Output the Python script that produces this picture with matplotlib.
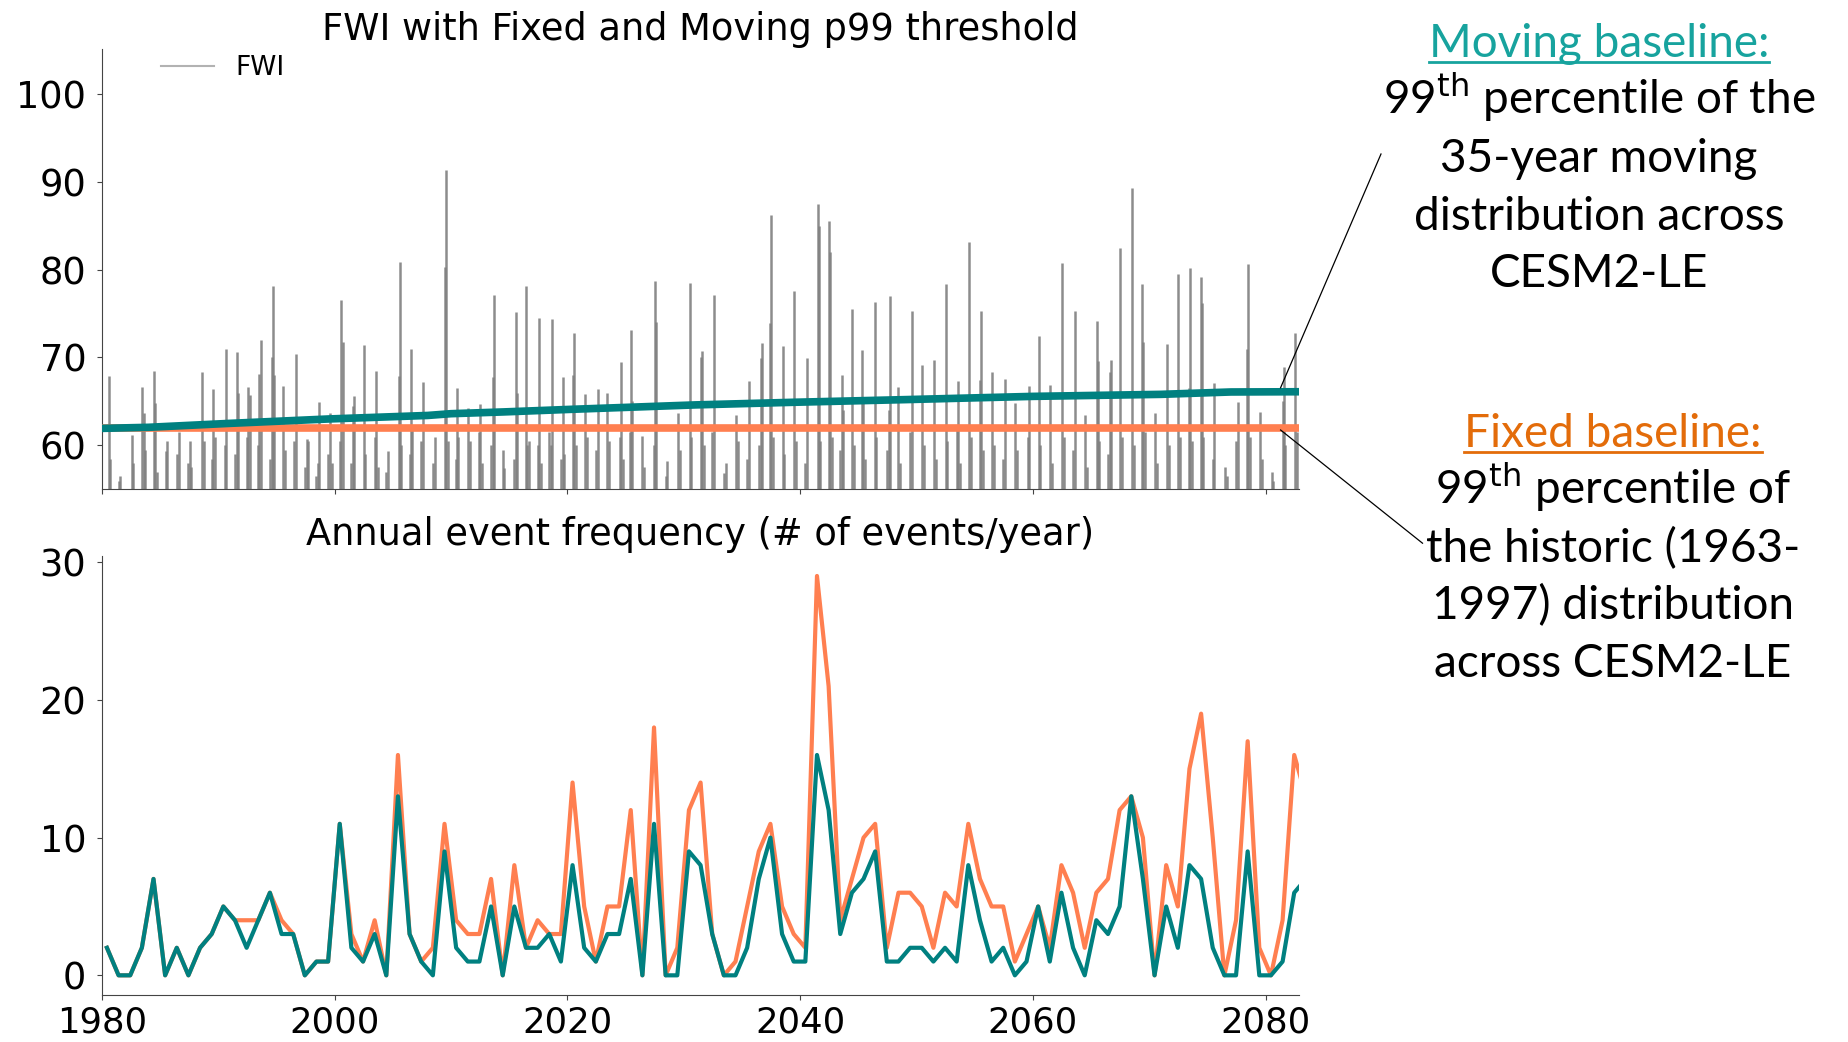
import numpy as np
import matplotlib
matplotlib.use("Agg")
import matplotlib.pyplot as plt
from matplotlib.lines import Line2D

# ---------------- data ----------------
years = np.arange(1980, 2084)
events_fixed = [2, 0, 0, 2, 7, 0, 2, 0, 2, 3, 5, 4, 4, 4, 6, 4, 3, 0, 1, 1,
                11, 3, 1, 4, 0, 16, 3, 1, 2, 11, 4, 3, 3, 7, 0, 8, 2, 4, 3, 3,
                14, 5, 1, 5, 5, 12, 0, 18, 0, 2, 12, 14, 3, 0, 1, 5, 9, 11, 5, 3,
                2, 29, 21, 4, 7, 10, 11, 2, 6, 6, 5, 2, 6, 5, 11, 7, 5, 5, 1, 3,
                5, 2, 8, 6, 2, 6, 7, 12, 13, 10, 0, 8, 5, 15, 19, 10, 0, 4, 17, 2,
                0, 4, 16, 13]
events_moving = [2, 0, 0, 2, 7, 0, 2, 0, 2, 3, 5, 4, 2, 4, 6, 3, 3, 0, 1, 1,
                 11, 2, 1, 3, 0, 13, 3, 1, 0, 9, 2, 1, 1, 5, 0, 5, 2, 2, 3, 1,
                 8, 2, 1, 3, 3, 7, 0, 11, 0, 0, 9, 8, 3, 0, 0, 2, 7, 10, 3, 1,
                 1, 16, 12, 3, 6, 7, 9, 1, 1, 2, 2, 1, 2, 1, 8, 4, 1, 2, 0, 1,
                 5, 1, 6, 2, 0, 4, 3, 5, 13, 7, 0, 5, 2, 8, 7, 2, 0, 0, 9, 0,
                 0, 1, 6, 7]

# main FWI peaks (decimal year, value)
fwi_time = [1980.63, 1981.6, 1982.6, 1983.5, 1983.6, 1984.5, 1984.6, 1985.5, 1985.6, 1986.6,
            1987.6, 1987.7, 1988.6, 1989.6, 1989.7, 1990.7, 1991.6, 1991.7, 1992.6, 1992.7,
            1993.55, 1993.7, 1994.6, 1994.7, 1994.8, 1995.6, 1996.7, 1997.6, 1997.7, 1998.55,
            1998.7, 1999.6, 1999.75, 2000.6, 2000.7, 2001.6, 2001.7, 2002.5, 2003.6, 2003.75,
            2004.6, 2005.5, 2005.65, 2006.6, 2006.7, 2007.6, 2008.6, 2009.5, 2009.6, 2010.5,
            2010.65, 2011.5, 2012.5, 2012.65, 2013.6, 2013.7, 2014.6,
            2015.6, 2015.7, 2016.45, 2016.55, 2017.5, 2017.6, 2018.6, 2018.7, 2019.6, 2019.7,
            2020.5, 2020.6, 2021.5, 2022.6, 2023.4, 2024.5, 2024.6, 2025.5, 2025.6, 2026.4,
            2027.55, 2027.6, 2028.6, 2029.5, 2030.5, 2031.5, 2031.6, 2032.6, 2033.5, 2034.5,
            2035.6, 2036.6, 2036.7, 2037.45, 2037.5, 2038.5, 2039.5, 2040.6, 2041.5, 2041.6,
            2042.5, 2042.6, 2043.6, 2043.7, 2044.5, 2045.3, 2045.4, 2046.4, 2047.6, 2047.7,
            2048.4,
            2049.6, 2050.5, 2051.5, 2052.5, 2053.5, 2053.6, 2054.5, 2055.45, 2055.55, 2056.5,
            2057.6, 2058.5, 2059.7, 2060.5, 2061.5, 2062.5, 2063.6, 2064.5, 2065.5, 2065.6,
            2066.6, 2066.7, 2067.5, 2068.5, 2069.4, 2069.5, 2070.5, 2071.5, 2072.5, 2073.4,
            2073.5, 2074.4, 2074.5, 2075.6, 2076.5, 2077.6, 2078.4, 2078.5, 2079.5, 2080.5,
            2081.5, 2081.6, 2082.5]
fwi_peak = [67.9, 56.5, 61.2, 66.6, 63.7, 68.5, 64.8, 59.3, 60.5, 61.5,
            60.5, 57.5, 68.3, 66.4, 61.0, 71.0, 70.6, 66.0, 66.6, 65.7,
            68.1, 72.0, 70.0, 78.1, 68.0, 66.7, 70.4, 60.7, 60.5, 58.0,
            64.9, 63.7, 58.0, 76.5, 71.8, 64.5, 65.6, 71.4, 68.5, 57.5,
            59.3, 67.9, 80.8, 71.0, 62.0, 67.2, 61.0, 80.3, 91.3, 66.5,
            61.0, 64.2, 64.7, 58.0, 67.8, 77.1, 57.4,
            75.2, 66.0, 78.1, 60.0, 60.0, 74.5, 60.0, 74.4, 67.8, 59.0,
            68.0, 72.8, 65.8, 66.4, 66.0, 61.0, 69.5, 73.1, 65.0, 61.1,
            78.7, 74.0, 58.2, 63.7, 78.5, 70.0, 70.7, 77.1, 56.8, 63.5,
            67.3, 69.9, 71.6, 73.9, 86.2, 71.3, 77.6, 69.9, 87.4, 85.0,
            85.5, 82.0, 68.0, 64.0, 75.5, 70.8, 65.0, 76.25, 64.0, 77.0,
            66.6,
            75.3, 69.1, 69.7, 78.3, 62.0, 67.3, 83.1, 67.4, 75.3, 68.3,
            67.6, 64.8, 66.8, 72.4, 66.9, 80.7, 75.3, 63.4, 74.1, 69.6,
            68.3, 69.7, 82.5, 89.3, 78.3, 71.8, 63.7, 71.5, 79.5, 66.5,
            80.2, 79.1, 76.2, 67.1, 57.5, 64.9, 71.0, 80.6, 63.8, 57.0,
            65.0, 68.9, 72.8]

# smaller FWI excursions just above the 55 floor
fwi_low_time = [1980.75, 1981.45, 1982.7, 1983.7, 1984.75, 1986.5, 1987.45, 1988.75, 1989.45, 1990.55,
                1991.45, 1992.5, 1993.45, 1994.45, 1995.75, 1996.55, 1997.45, 1998.45, 1999.45, 2000.45,
                2001.45, 2002.65, 2003.45, 2004.45, 2005.75, 2006.45, 2007.45, 2008.45, 2009.75, 2010.4,
                2011.65, 2012.4, 2013.45, 2014.45, 2015.45, 2016.7, 2017.75, 2018.45, 2019.45, 2020.75,
                2021.65, 2022.45, 2023.6, 2024.75, 2025.4, 2026.6, 2027.45, 2028.45, 2029.65, 2030.65,
                2031.75, 2032.45, 2033.65, 2034.65, 2035.45, 2036.45, 2037.65, 2038.65, 2039.65, 2040.45,
                2041.75, 2042.75, 2043.45, 2044.65, 2045.55, 2046.55, 2047.45, 2048.6, 2049.45, 2050.65,
                2051.65, 2052.65, 2053.75, 2054.65, 2055.7, 2056.65, 2057.45, 2058.65, 2059.55, 2060.65,
                2061.65, 2062.65, 2063.45, 2064.65, 2065.7, 2066.45, 2067.65, 2068.65, 2069.65, 2070.65,
                2071.65, 2072.65, 2073.65, 2074.65, 2075.45, 2076.65, 2077.45, 2078.65, 2079.65, 2080.65,
                2081.7, 2082.65]
fwi_low_peak = [58.5, 56.0, 58.0, 59.5, 57.0, 59.0, 58.0, 60.5, 58.5, 60.0,
                59.0, 61.0, 60.0, 58.5, 59.5, 60.5, 57.5, 56.5, 59.0, 60.5,
                58.0, 59.0, 61.0, 57.0, 60.0, 59.0, 60.5, 58.0, 60.5, 58.5,
                60.5, 61.5, 60.0, 59.5, 58.5, 60.5, 58.0, 61.5, 58.5, 60.0,
                61.0, 59.5, 60.5, 58.5, 61.5, 57.5, 60.0, 56.5, 59.5, 61.0,
                60.0, 61.5, 58.0, 60.5, 58.5, 60.0, 61.0, 59.0, 60.5, 58.0,
                60.5, 61.0, 59.5, 60.0, 58.5, 61.0, 59.5, 58.0, 61.5, 60.0,
                58.5, 60.5, 58.0, 61.0, 59.5, 60.0, 58.5, 59.5, 61.0, 60.0,
                58.0, 61.0, 59.5, 57.5, 60.5, 59.0, 61.0, 60.0, 61.5, 58.0,
                60.0, 61.0, 60.5, 61.0, 58.5, 56.5, 60.5, 61.0, 58.5, 56.0,
                60.0, 61.5]

moving_years = [1980, 1984, 1991, 1999.5, 2008, 2010, 2014.5, 2020.4, 2031, 2039.5,
                2049, 2060, 2071, 2077, 2083.5]
moving_p99 = [61.93, 62.05, 62.5, 63.0, 63.4, 63.6, 63.8, 64.1, 64.6, 64.9,
              65.2, 65.57, 65.8, 66.07, 66.1]
fixed_p99 = 61.93

xticks = [1980, 2000, 2020, 2040, 2060, 2080]
top_yticks = [60, 70, 80, 90, 100]
bottom_yticks = [0, 10, 20, 30]

title_top = "FWI with Fixed and Moving p99 threshold"
title_bottom = "Annual event frequency (# of events/year)"

moving_head = "Moving baseline:"
moving_lines = ["99$^{\\mathrm{th}}$ percentile of the", "35-year moving",
                "distribution across", "CESM2-LE"]
fixed_head = "Fixed baseline:"
fixed_lines = ["99$^{\\mathrm{th}}$ percentile of", "the historic (1963-",
               "1997) distribution", "across CESM2-LE"]

# ---------------- figure ----------------
plt.rcParams["mathtext.default"] = "regular"
W, H = 1849, 1042
fig = plt.figure(figsize=(W / 100, H / 100), dpi=100)


def rect(l, t, r, b):
    return [l / W, 1 - b / H, (r - l) / W, (b - t) / H]


ax1 = fig.add_axes(rect(101.7, 49.3, 1299, 489.3))
ax2 = fig.add_axes(rect(101.7, 556, 1299, 995.3))

TEAL = "teal"
CORAL = "coral"
FSZ = 26.5

ax1.vlines(fwi_low_time, 0, fwi_low_peak, color="#808080", lw=1.8, alpha=0.9, zorder=2)
ax1.vlines(fwi_time, 0, fwi_peak, color="#808080", lw=1.8, alpha=0.9, zorder=2)
ax1.axhline(fixed_p99, color=CORAL, lw=5.5, zorder=3)
ax1.plot(moving_years, moving_p99, color=TEAL, lw=5.5, zorder=4)
ax1.set_ylim(55, 105.05)
ax1.set_yticks(top_yticks)
ax1.set_xlim(1980, 2082.86)
ax1.set_xticks(xticks)
ax1.tick_params(axis="x", labelbottom=False)
ax1.set_title(title_top, fontsize=FSZ, pad=7)
ax1.legend(handles=[Line2D([], [], color="gray", alpha=0.6, lw=1.5)], labels=["FWI"],
           loc="upper left", bbox_to_anchor=(0.03, 1.04), frameon=False, fontsize=19)

xpos = years + 0.45
ax2.plot(xpos, events_fixed, color=CORAL, lw=3, zorder=3)
ax2.plot(xpos, events_moving, color=TEAL, lw=3, zorder=4)
ax2.set_xlim(1980, 2082.86)
ax2.set_ylim(-1.45, 30.45)
ax2.set_xticks(xticks)
ax2.set_yticks(bottom_yticks)
ax2.set_title(title_bottom, fontsize=FSZ, pad=8)

for ax in (ax1, ax2):
    for s in ("top", "right"):
        ax.spines[s].set_visible(False)
    for s in ("left", "bottom"):
        ax.spines[s].set_color("#444444")
    ax.tick_params(axis="y", labelsize=FSZ, color="#444444", pad=7.5)
    ax.tick_params(axis="x", labelsize=25.5, color="#444444", pad=4)

# ---------------- side text ----------------
FONT = ["Lato", "DejaVu Sans"]
FS = 33
renderer = fig.canvas.get_renderer()


def fx(px):
    return px / W


def fy(py):
    return 1 - py / H


def block(cx, y0, head, lines, head_color, spacing=57.6):
    t = fig.text(fx(cx), fy(y0), head, ha="center", va="baseline", fontsize=FS,
                 family=FONT, color=head_color)
    bb = t.get_window_extent(renderer)
    fig.add_artist(Line2D([bb.x0 / W, bb.x1 / W], [fy(y0 + 5), fy(y0 + 5)],
                          color=head_color, lw=2))
    for k, s in enumerate(lines):
        fig.text(fx(cx), fy(y0 + spacing * (k + 1)), s, ha="center", va="baseline",
                 fontsize=FS, family=FONT, color="black")


block(1599, 56.7, moving_head, moving_lines, "#17A39E")
block(1613, 446.7, fixed_head, fixed_lines, "#E36C0A")

fig.add_artist(Line2D([fx(1280.6), fx(1381)], [fy(387.7), fy(154)], color="black", lw=0.9))
fig.add_artist(Line2D([fx(1280.6), fx(1422.5)], [fy(430), fy(543.2)], color="black", lw=0.9))

fig.savefig("out.png", dpi=100)
